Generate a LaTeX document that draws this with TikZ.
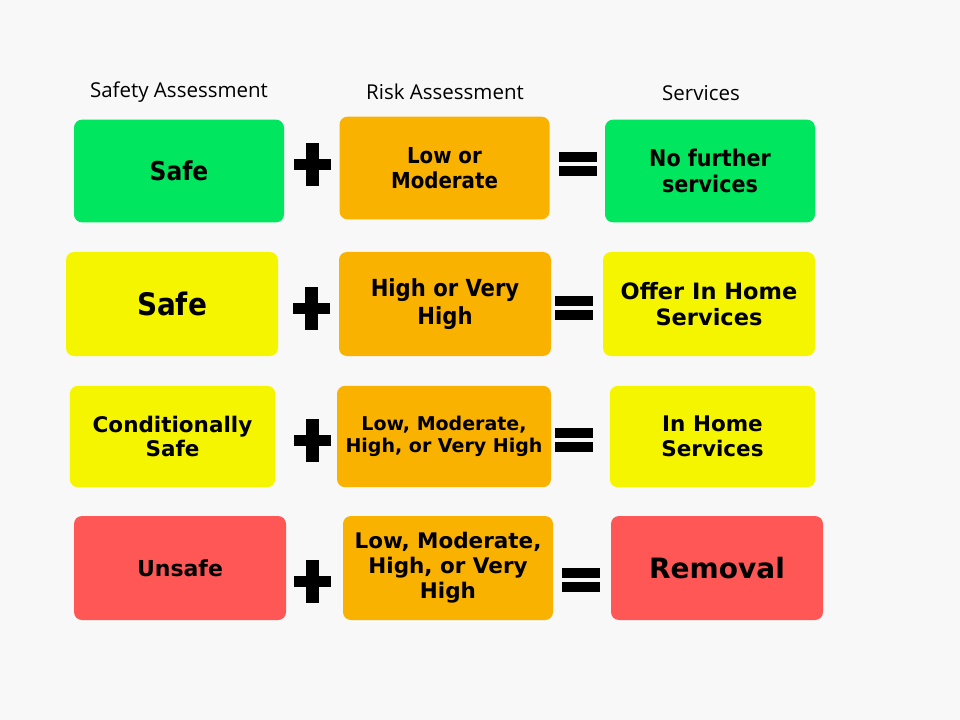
\documentclass[tikz,border=0pt]{standalone}
\usepackage{fontspec}
\setmainfont{Open Sans}
\newfontfamily\boxfont{DejaVu Sans Condensed}
\newfontfamily\wideboxfont{DejaVu Sans}
\usetikzlibrary{positioning}

% font size given in pixels of the picture
\newcommand{\pxsize}[1]{\fontsize{\fpeval{#1*0.75}}{\fpeval{#1*0.87}}\selectfont}

\definecolor{bggray}{HTML}{F8F8F8}
\definecolor{safegreen}{HTML}{00E65E}
\definecolor{warnyellow}{HTML}{F5F500}
\definecolor{riskorange}{HTML}{F9B200}
\definecolor{dangerred}{HTML}{FF5656}

\begin{document}
\begin{tikzpicture}[x=0.75pt, y=-0.75pt,
    cell/.style={rounded corners=6pt, align=center, inner sep=2pt,
                 minimum width=157.5pt, minimum height=77pt,
                 font=\boxfont\bfseries\pxsize{#1}},
    widecell/.style={cell, font=\wideboxfont\bfseries\pxsize{#1}},
    header/.style={font=\pxsize{20.5}},
    plussign/.pic={\fill[black] (-18.5,-5.5) rectangle (18.5,5.5);
                   \fill[black] (-6.5,-21.5) rectangle (6.5,21.5);},
    eqsign/.pic={\fill[black] (-19,-12) rectangle (19,-2);
                 \fill[black] (-19,2) rectangle (19,12);}]

    % 1. Nen
    \fill[bggray] (0,0) rectangle (960,720);

    % 2. Tieu de cot
    \node[header] (hsafety) at (179,92) {Safety Assessment};
    \node[header] (hrisk)   at (445,92) {Risk Assessment};
    \node[header] (hserv)   at (701,93) {Services};

    % 3. Hang 1
    \node[cell=26, fill=safegreen]  (safe1) at (179,171)   {Safe};
    \node[cell=22, fill=riskorange] (risk1) at (444.5,168) {Low or\\Moderate};
    \node[cell=23, fill=safegreen]  (serv1) at (710,171)   {No further\\services};
    \pic at (312.5,165) {plussign};
    \pic at (577.5,164.5) {eqsign};

    % 4. Hang 2
    \node[cell=31, fill=warnyellow, minimum width=159pt, minimum height=78pt] (safe2) at (172,304) {Safe};
    \node[cell=23.5, fill=riskorange, minimum width=159pt, minimum height=78pt] (risk2) at (445,304) {High or Very\\High};
    \node[widecell=22.5, fill=warnyellow, minimum width=159pt, minimum height=78pt] (serv2) at (709,304) {Offer In Home\\Services};
    \pic at (311.5,308.5) {plussign};
    \pic at (574,308) {eqsign};

    % 5. Hang 3
    \node[widecell=21.5, fill=warnyellow, minimum width=154pt, minimum height=76pt] (safe3) at (172.5,436.5) {Conditionally\\Safe};
    \node[widecell=19, fill=riskorange, minimum width=160.5pt, minimum height=76pt] (risk3) at (444,436.5) {Low, Moderate,\\High, or Very High};
    \node[widecell=21.5, fill=warnyellow, minimum width=154pt, minimum height=76pt] (serv3) at (712.5,436.5) {In Home\\Services};
    \pic at (312.5,440) {plussign};
    \pic at (574,440) {eqsign};

    % 6. Hang 4
    \node[widecell=22, fill=dangerred,  minimum width=159pt, minimum height=78pt] (safe4) at (180,568) {Unsafe};
    \node[widecell=21.5, fill=riskorange, minimum width=157.5pt, minimum height=78pt] (risk4) at (448,568) {Low, Moderate,\\High, or Very\\High};
    \node[widecell=28, fill=dangerred,  minimum width=159pt, minimum height=78pt] (serv4) at (717,568) {Removal};
    \pic at (312.5,581.5) {plussign};
    \pic at (581,580) {eqsign};

\end{tikzpicture}
\end{document}
